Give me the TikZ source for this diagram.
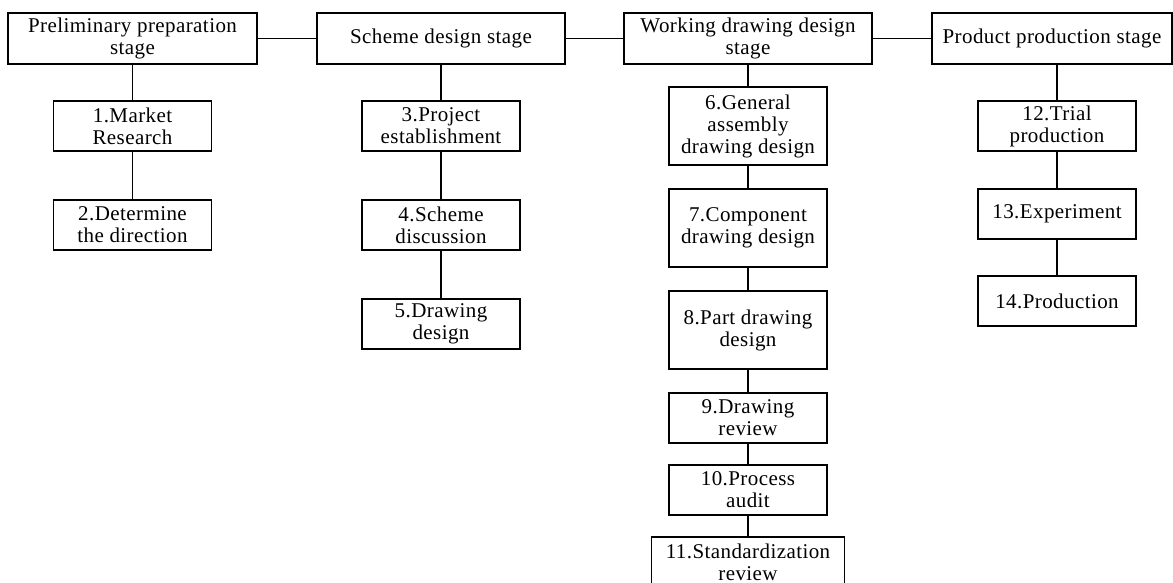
\documentclass[tikz,border=0pt]{standalone}
\usepackage{fontspec}
\setmainfont{Liberation Serif}[LetterSpace=2]
\usetikzlibrary{positioning}

\begin{document}
\begin{tikzpicture}[x=0.5pt,y=-0.5pt,
  stage/.style={draw, line width=0.8pt, outer sep=0pt, inner sep=0pt, align=center, minimum height=25.5pt, font=\fontsize{10.5}{11}\selectfont},
  task/.style={draw, line width=0.8pt, outer sep=0pt, inner sep=0pt, align=center, minimum width=79pt, minimum height=25pt, font=\fontsize{10.5}{11}\selectfont},
  tall/.style={task, minimum height=39pt},
  link/.style={line width=0.8pt}]
\useasboundingbox (0,0) rectangle (1173,583);
% stages
\node[stage, minimum width=124.5pt](Prep) at (132.5,38.5){Preliminary preparation\\ stage};
\node[stage, minimum width=124pt](Scheme) at (441,38.5){Scheme design stage};
\node[stage, minimum width=124pt](Work) at (748,38.5){Working drawing design\\ stage};
\node[stage, minimum width=120pt](Prod) at (1052,38.5){Product production stage};
\draw[link] (Prep) -- (Scheme);
\draw[link] (Scheme) -- (Work);
\draw[link] (Work) -- (Prod);

% steps
\node[task, below=18.5pt of Prep](Market){1.Market\\ Research};
\node[task, below=24.5pt of Market](Direct){2.Determine\\ the direction};

\node[task, below=18.5pt of Scheme](Project){3.Project\\ establishment};
\node[task, below=24.5pt of Project](Discuss){4.Scheme\\ discussion};
\node[task, below=24.5pt of Discuss](DrawDes){5.Drawing\\ design};

\node[tall, below=11.5pt of Work](General){6.General\\ assembly\\ drawing design};
\node[tall, below=12pt of General](Compo){7.Component\\ drawing design};
\node[tall, below=12pt of Compo](PartD){8.Part drawing\\ design};
\node[task, below=12pt of PartD](Review){9.Drawing\\ review};
\node[task, below=11pt of Review](Audit){10.Process\\ audit};
\node[task, below=11pt of Audit, minimum width=96.5pt](Standard){11.Standardization\\ review};

\node[task, below=18.5pt of Prod, xshift=2.5pt](Trial){12.Trial\\ production};
\node[task, below=19pt of Trial](Exper){13.Experiment};
\node[task, below=18.5pt of Exper](Produc){14.Production};

\draw[link] (Prep) -- (Market) -- (Direct);
\draw[link] (Scheme) -- (Project) -- (Discuss) -- (DrawDes);
\draw[link] (Work) -- (General) -- (Compo) -- (PartD) -- (Review) -- (Audit) -- (Standard);
\draw[link] (Trial.north) -- (Trial.north |- Prod.south);
\draw[link] (Trial) -- (Exper) -- (Produc);
\end{tikzpicture}
\end{document}
